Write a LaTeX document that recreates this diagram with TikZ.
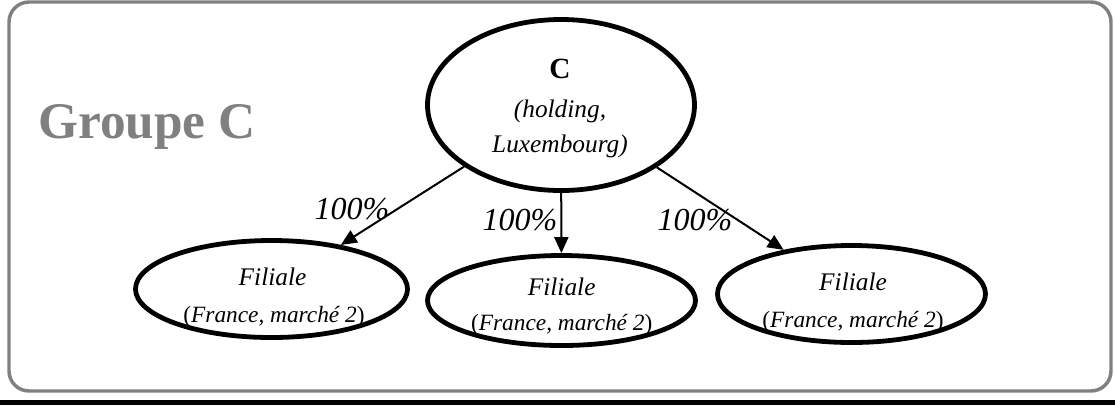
\documentclass[tikz,border=0pt]{standalone}
\usepackage{fontspec}
\setmainfont{Liberation Serif}
\usetikzlibrary{shapes.geometric,arrows.meta}
\definecolor{framegray}{HTML}{808080}
\begin{document}
\begin{tikzpicture}[x=0.75pt,y=-0.75pt,
  ent/.style={ellipse,draw=black,line width=3.6pt,inner sep=0pt},
  lbl/.style={anchor=base,inner sep=0pt,font=\fontsize{19}{23}\selectfont\itshape},
  sub/.style={anchor=base,inner sep=0pt,font=\fontsize{17.5}{21}\selectfont},
  pct/.style={anchor=base,inner sep=0pt,font=\fontsize{24}{28}\selectfont\itshape},
  own/.style={line width=1.5pt,-{Triangle[length=12pt,width=10.5pt]}}]
\useasboundingbox (0,0) rectangle (1115,405);
\fill[black] (0,400) rectangle (1115,405);
\draw[framegray,line width=2.6pt,rounded corners=15pt] (9,2) rectangle (1111,391);

\node[anchor=base west,inner sep=0pt,text=framegray,font=\fontsize{38.5}{42}\selectfont\bfseries] (grp) at (38,138) {Groupe C};

\node[ent,minimum width=200.25pt,minimum height=128.25pt] (top) at (561,105) {};
\node[ent,minimum width=204pt,minimum height=72.75pt] (left) at (271.5,289) {};
\node[ent,minimum width=201pt,minimum height=67.5pt] (mid) at (561.5,300.5) {};
\node[ent,minimum width=201pt,minimum height=72.75pt] (right) at (851.5,294) {};

\node[lbl,font=\fontsize{22}{25}\selectfont\bfseries] (tC) at (560,78) {C};
\node[lbl] (tC2) at (560,117) {(holding,};
\node[lbl] (tC3) at (560,152) {Luxembourg)};

\node[lbl] (tL1) at (272.5,285) {Filiale};
\node[sub] (tL2) at (274,322) {(\textit{France, marché 2})};
\node[lbl] (tM1) at (561.7,295) {Filiale};
\node[sub] (tM2) at (561.7,330) {(\textit{France, marché 2})};
\node[lbl] (tR1) at (853,290) {Filiale};
\node[sub] (tR2) at (853,327) {(\textit{France, marché 2})};

\draw[own] (top) -- (left);
\draw[own] (top) -- (mid);
\draw[own] (top) -- (right);

\node[pct] (p1) at (352,219) {100\%};
\node[pct] (p2) at (520,230) {100\%};
\node[pct] (p3) at (695,230) {100\%};
\end{tikzpicture}
\end{document}
